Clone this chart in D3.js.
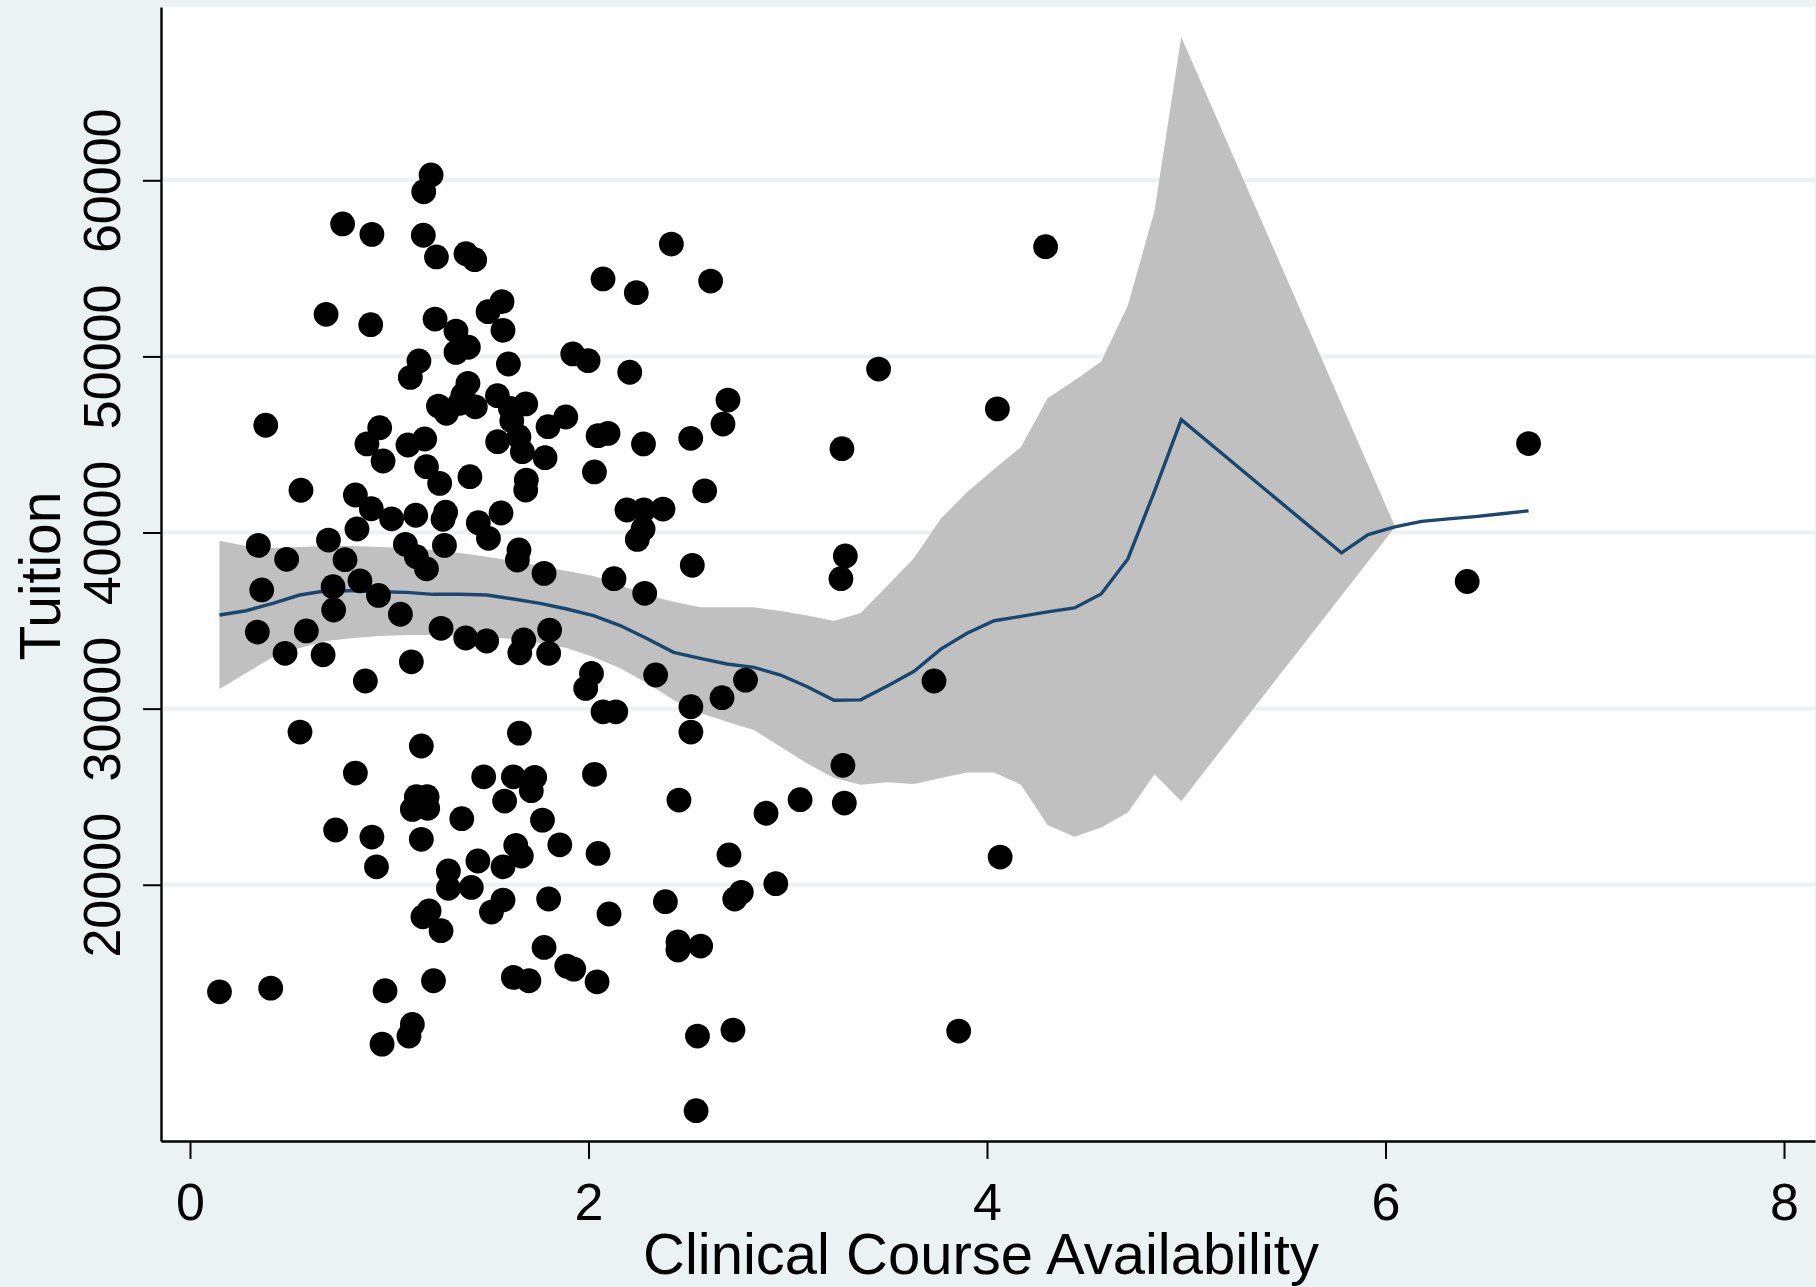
<!DOCTYPE html>
<html lang="en">
<head>
	<meta charset="UTF-8" />
	<script src="https://d3js.org/d3.v7.min.js"></script>
	<style>
		body { margin: 0; background: #eaf2f3; }
		svg { display: block; }
	</style>
</head>
<body>
	<svg width="1816" height="1287"></svg>
	<script>
		//////////////////////
		// data
		//////////////////////
		var courseAvail = [
			1.210, 1.173, 0.766, 0.913, 1.171, 1.237, 1.385, 1.429, 1.566, 1.496,
			0.683, 0.907, 1.230, 1.335, 1.571, 1.397, 1.335, 1.149, 1.106, 1.598,
			1.395, 1.370, 1.247, 1.287, 1.354, 1.432, 1.543, 1.608, 1.685, 1.615,
			1.797, 0.380, 0.952, 0.888, 0.969, 1.094, 1.178, 1.544, 1.651, 1.668,
			1.782, 1.187, 1.253, 1.405, 1.688, 1.685, 0.557, 0.830, 0.910, 1.012,
			1.133, 1.283, 1.270, 1.447, 1.561, 1.498, 0.838, 0.695, 0.343, 0.485,
			0.778, 1.081, 1.136, 1.187, 1.277, 1.651, 1.643, 1.777, 0.360, 0.718,
			0.853, 0.946, 0.721, 1.056, 0.338, 0.584, 1.260, 1.384, 1.489, 1.675,
			1.805,
			0.477, 0.668, 0.880, 1.111, 1.655, 1.800, 0.552, 1.161, 1.653, 0.830,
			1.474, 1.623, 1.730, 1.713, 1.579, 1.136, 1.190, 1.116, 1.193, 1.364,
			1.769, 0.731, 0.913, 1.161, 1.856, 1.635, 1.663, 0.936, 1.445, 1.571,
			1.297, 1.297, 1.412, 1.571, 1.513, 1.800, 1.200, 1.169, 1.260, 1.777,
			1.891, 1.926, 1.623, 1.701, 0.148, 0.405, 0.979, 1.222, 1.116, 1.099,
			0.964,
			2.416, 2.073, 2.240, 2.613, 1.921, 1.998, 2.207, 3.456, 2.700, 2.675,
			1.886, 2.048, 2.098, 2.276, 2.513, 3.272, 2.030, 2.583, 2.193, 2.277,
			2.374, 2.274, 2.245, 2.521, 3.289, 3.267, 2.128, 2.282,
			2.015, 1.986, 2.073, 2.137, 2.337, 2.514, 2.514, 2.670, 2.788, 3.734,
			3.277, 2.030, 2.454, 2.891, 3.062, 3.284, 2.048, 2.705, 2.940, 2.386,
			2.767, 2.734, 2.103, 2.449, 2.449, 2.563, 2.043, 2.547, 2.725, 2.540,
			3.858, 4.052, 4.066, 4.294, 6.718, 6.410
		];
		var tuition = [
			60300, 59350, 57520, 56930, 56880, 55650, 55830, 55490, 53110, 52540,
			52390, 51800, 52120, 51440, 51480, 50520, 50230, 49740, 48810, 49570,
			48470, 47810, 47180, 46770, 47340, 47140, 47770, 47050, 47300, 46350,
			46010, 46090, 45950, 45030, 44060, 44970, 45310, 45160, 45440, 44590,
			44250, 43740, 42790, 43170, 42980, 42410, 42400, 42130, 41350, 40780,
			40980, 41150, 40750, 40560, 41110, 39670, 40200, 39570, 39270, 38480,
			38460, 39330, 38630, 37940, 39270, 39010, 38440, 37680, 36740, 36920,
			37260, 36430, 35600, 35360, 34350, 34410, 34560, 34010, 33840, 33900,
			34460,
			33140, 33060, 31570, 32660, 33170, 33140, 28670, 27880, 28610, 26340,
			26130, 26130, 26100, 25340, 24750, 25000, 25000, 24280, 24340, 23750,
			23670, 23110, 22710, 22580, 22270, 22240, 21630, 21020, 21350, 21020,
			20780, 19800, 19850, 19130, 18450, 19190, 18520, 18180, 17390, 16440,
			15380, 15210, 14740, 14550, 13920, 14130, 13980, 14550, 12070, 11410,
			10950,
			56380, 54400, 53620, 54280, 50140, 49760, 49100, 49280, 47520, 46160,
			46560, 45500, 45630, 45030, 45350, 44760, 43440, 42370, 41280, 41280,
			41330, 40200, 39610, 38140, 38670, 37380, 37380, 36550,
			32000, 31150, 29820, 29820, 31910, 30110, 28670, 30620, 31620, 31570,
			26780, 26270, 24810, 24060, 24830, 24640, 21780, 21690, 20060, 19040,
			19570, 19190, 18340, 16760, 16290, 16520, 14490, 11410, 11750, 7170,
			11690, 47020, 21570, 56230, 45050, 37220
		];

		// local polynomial fit + 95% CI, evaluated on the grid (null = no estimate)
		var gridX = [
			0.148, 0.282, 0.416, 0.550, 0.684, 0.818, 0.952, 1.087, 1.221, 1.355,
			1.489, 1.623, 1.757, 1.891, 2.025, 2.159, 2.293, 2.427, 2.561, 2.695,
			2.830, 2.964, 3.098, 3.232, 3.366, 3.500, 3.634, 3.768, 3.902, 4.036,
			4.170, 4.304, 4.439, 4.573, 4.707, 4.841, 4.975,
			5.779, 5.913, 6.047, 6.181, 6.316, 6.450, 6.584, 6.718
		];
		var fitY = [
			35315, 35559, 35980, 36451, 36695, 36695, 36638, 36604, 36491, 36491,
			36451, 36224, 35980, 35656, 35286, 34718, 33980, 33197, 32856, 32533,
			32345, 31908, 31244, 30480, 30500, 31290, 32120, 33380, 34299, 34991,
			35236, 35497, 35719, 36513, 38501, 42351, 46411,
			38842, 39881, 40324, 40630, 40772, 40903, 41067, 41232
		];
		var ciLow = [
			31120, 32020, 32930, 33440, 33840, 34010, 34120, 34180, 34180, 34120,
			34070, 33950, 33730, 33440, 32930, 32300, 31450, 30490, 29750, 29260,
			28790, 27840, 26890, 26065, 25685, 25826, 25724, 26065, 26372, 26372,
			25685, 23390, 22720, 23248, 24100, 26269, 24748,
			null, null, 40300, null, null, null, null, null
		];
		var ciHigh = [
			39534, 39233, 39119, 39176, 39233, 39233, 39176, 39119, 39006, 38836,
			38625, 38381, 38097, 37814, 37530, 37019, 36451, 36070, 35752, 35752,
			35752, 35542, 35286, 34974, 35429, 36979, 38557, 40789, 42311, 43606,
			44849, 47626, 48637, 49716, 52896, 58268, 68137,
			null, null, 40350, null, null, null, null, null
		];

		var xTicks = [0, 2, 4, 6, 8];
		var yTicks = [20000, 30000, 40000, 50000, 60000];

		//////////////////////
		// layout
		//////////////////////
		var plotL = 161, plotR = 1815, plotT = 7, plotB = 1141;
		var svg = d3.select("svg");

		var x = d3.scaleLinear().domain([-0.1455, 8.1556]).range([plotL, plotR]);
		var y = d3.scaleLinear().domain([5450, 69840]).range([plotB, plotT]);

		// plot region
		svg.append("rect")
			.attr("x", plotL).attr("y", plotT)
			.attr("width", plotR - plotL).attr("height", plotB - plotT)
			.attr("fill", "#ffffff");

		// grid
		svg.append("g")
			.selectAll("line")
			.data(yTicks)
			.enter().append("line")
			.attr("x1", plotL).attr("x2", plotR)
			.attr("y1", function(d) { return y(d); })
			.attr("y2", function(d) { return y(d); })
			.attr("stroke", "#eaf2f3")
			.attr("stroke-width", 4);

		// CI band
		var band = gridX.map(function(d, i) { return [d, ciLow[i], ciHigh[i]]; })
			.filter(function(d) { return d[1] != null; });
		var area = d3.area()
			.x(function(d) { return x(d[0]); })
			.y0(function(d) { return y(d[1]); })
			.y1(function(d) { return y(d[2]); });
		svg.append("path")
			.datum(band)
			.attr("d", area)
			.attr("fill", "#c0c0c0");

		// fitted line
		var line = d3.line()
			.x(function(d, i) { return x(gridX[i]); })
			.y(function(d) { return y(d); });
		svg.append("path")
			.datum(fitY)
			.attr("d", line)
			.attr("fill", "none")
			.attr("stroke", "#1a476f")
			.attr("stroke-width", 3.4)
			.attr("stroke-linejoin", "miter");

		// scatter
		svg.append("g")
			.selectAll("circle")
			.data(courseAvail)
			.enter().append("circle")
			.attr("cx", function(d) { return x(d); })
			.attr("cy", function(d, i) { return y(tuition[i]); })
			.attr("r", 12.4)
			.attr("fill", "#000000");

		//////////////////////
		// axes
		//////////////////////
		var fontFam = "'Liberation Sans', Arial, Helvetica, sans-serif";

		var xAxis = svg.append("g")
			.attr("transform", "translate(0," + plotB + ")")
			.call(d3.axisBottom(x).tickValues(xTicks).tickSize(18).tickSizeOuter(0).tickPadding(24));

		var yAxis = svg.append("g")
			.attr("transform", "translate(" + plotL + ",0)")
			.call(d3.axisLeft(y).tickValues(yTicks).tickSize(18).tickSizeOuter(0)
				.tickFormat(d3.format("d")));

		yAxis.selectAll(".tick text")
			.attr("transform", "rotate(-90)")
			.attr("x", 0)
			.attr("y", -41)
			.attr("dy", 0)
			.attr("text-anchor", "middle");

		[xAxis, yAxis].forEach(function(a) {
			a.select(".domain").attr("stroke", "#000").attr("stroke-width", 2.4);
			a.selectAll(".tick line").attr("stroke", "#000").attr("stroke-width", 2);
			a.selectAll(".tick text")
				.attr("fill", "#000")
				.style("font-family", fontFam)
				.style("font-size", "52px");
		});

		// titles
		svg.append("text")
			.attr("x", 981)
			.attr("y", 1274)
			.attr("text-anchor", "middle")
			.style("font-family", fontFam)
			.style("font-size", "58px")
			.text("Clinical Course Availability");

		svg.append("text")
			.attr("transform", "translate(60," + 576 + ") rotate(-90)")
			.attr("text-anchor", "middle")
			.style("font-family", fontFam)
			.style("font-size", "57px")
			.text("Tuition");
	</script>
</body>
</html>
